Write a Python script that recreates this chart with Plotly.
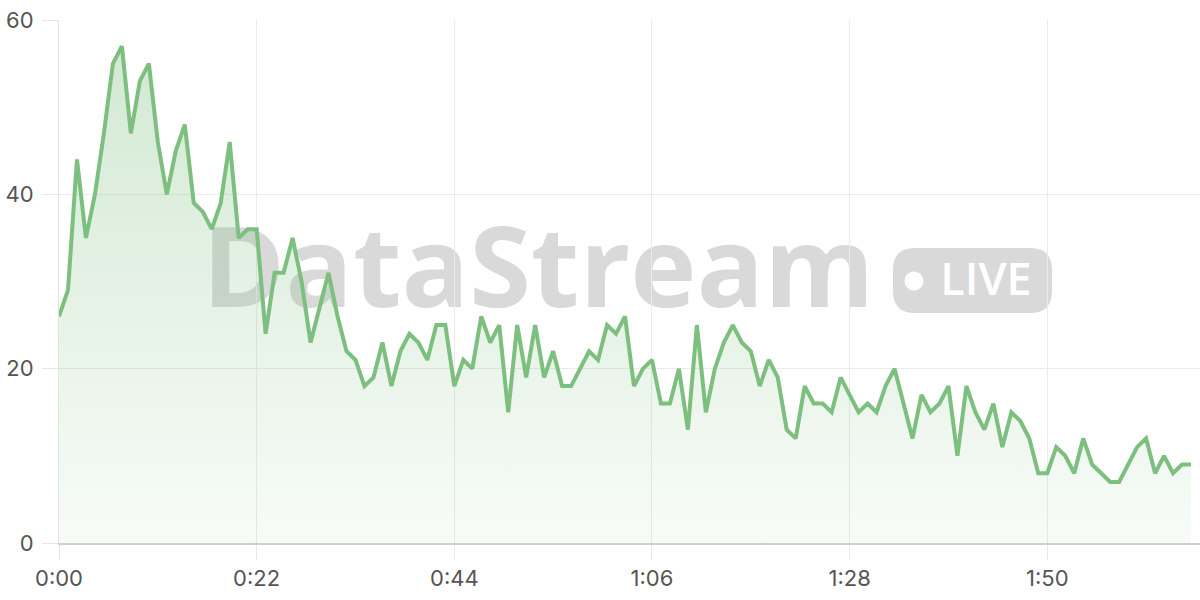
import plotly.graph_objects as go

# values sampled once per second (0:00 .. 2:06)
values = [
    26, 29, 44, 35, 40, 47, 55, 57, 47, 53, 55, 46, 40, 45, 48, 39, 38, 36, 39, 46, 35, 36, 36,
    24, 31, 31, 35, 30, 23, 27, 31, 26, 22, 21, 18, 19, 23, 18, 22, 24, 23, 21, 25, 25, 18,
    21, 20, 26, 23, 25, 15, 25, 19, 25, 19, 22, 18, 18, 20, 22, 21, 25, 24, 26, 18, 20, 21,
    16, 16, 20, 13, 25, 15, 20, 23, 25, 23, 22, 18, 21, 19, 13, 12, 18, 16, 16, 15, 19, 17, 15,
    16, 15, 18, 20, 16, 12, 17, 15, 16, 18, 10, 18, 15, 13, 16, 11, 15, 14, 12,
    8, 8, 11, 10, 8, 12, 9, 8, 7, 7, 9, 11, 12, 8, 10, 8, 9, 9,
]
seconds = list(range(len(values)))

x_tick_vals = [0, 22, 44, 66, 88, 110]
x_tick_text = ["0:00", "0:22", "0:44", "1:06", "1:28", "1:50"]
y_tick_vals = [0, 20, 40, 60]

LINE = "#7dbf7f"

fig = go.Figure()
fig.add_trace(go.Scatter(
    x=seconds, y=values, mode="lines",
    line=dict(color=LINE, width=4, shape="linear"),
    fill="tozeroy",
    fillgradient=dict(
        type="vertical", start=0, stop=60,
        colorscale=[[0, "rgba(125,191,127,0.06)"], [1, "rgba(125,191,127,0.36)"]],
    ),
    hoverinfo="skip",
    showlegend=False,
))

WM = "rgba(120,120,120,0.28)"

# watermark word
fig.add_shape(
    type="rect", xref="paper", yref="paper",
    x0=0.08, x1=0.76, y0=0.40, y1=0.64,
    line=dict(width=0), fillcolor="rgba(0,0,0,0)", layer="below",
    label=dict(text="DataStream", textposition="middle center",
               font=dict(family="Open Sans", size=112, color=WM, weight="bold")),
)

# LIVE badge (rounded rect in pixel units)
w, h, r = 159, 65, 22
hw, hh = w / 2, h / 2
path = (f"M {-hw + r},{-hh} L {hw - r},{-hh} Q {hw},{-hh} {hw},{-hh + r} "
        f"L {hw},{hh - r} Q {hw},{hh} {hw - r},{hh} L {-hw + r},{hh} "
        f"Q {-hw},{hh} {-hw},{hh - r} L {-hw},{-hh + r} Q {-hw},{-hh} {-hw + r},{-hh} Z")
bx = (972.5 - 59) / 1141
by = (543 - 280.5) / 523
fig.add_shape(
    type="path", xref="paper", yref="paper",
    xsizemode="pixel", ysizemode="pixel", xanchor=bx, yanchor=by,
    path=path, fillcolor=WM, line=dict(width=0), layer="below",
)
# white dot
fig.add_shape(
    type="circle", xref="paper", yref="paper",
    xsizemode="pixel", ysizemode="pixel",
    xanchor=(914 - 59) / 1141, yanchor=(543 - 281) / 523,
    x0=-9.5, x1=9.5, y0=-9.5, y1=9.5,
    fillcolor="white", line=dict(width=0), layer="below",
)
# LIVE text
fig.add_shape(
    type="rect", xref="paper", yref="paper",
    x0=(930 - 59) / 1141, x1=(1042 - 59) / 1141,
    y0=(543 - 313) / 523, y1=(543 - 248) / 523,
    line=dict(width=0), fillcolor="rgba(0,0,0,0)", layer="below",
    label=dict(text="LIVE", textposition="middle center",
               font=dict(family="Open Sans", size=45, color="white", weight=600)),
)

axis_font = dict(family="Inter", size=22, color="#555555")
fig.update_layout(
    width=1200, height=600,
    margin=dict(l=59, r=0, t=20, b=57),
    paper_bgcolor="white", plot_bgcolor="white",
    xaxis=dict(
        range=[0, 127], tickmode="array", tickvals=x_tick_vals, ticktext=x_tick_text,
        showgrid=True, gridcolor="#ebebeb", gridwidth=1,
        ticks="outside", ticklen=15, tickcolor="#e8e8e8", tickwidth=1,
        showline=True, linecolor="#cfcfcf", linewidth=1.5,
        zeroline=False, tickfont=axis_font, fixedrange=True,
    ),
    yaxis=dict(
        range=[0, 60], tickmode="array", tickvals=y_tick_vals,
        showgrid=True, gridcolor="#ebebeb", gridwidth=1,
        ticks="outside", ticklen=16, tickcolor="#e8e8e8", tickwidth=1,
        showline=True, linecolor="#e2e2e2", linewidth=1,
        zeroline=False, tickfont=axis_font, fixedrange=True,
        ticklabelstandoff=4,
    ),
)

fig.write_html("out.html", config={"displayModeBar": False},
               post_script="document.body.style.margin='0';")
